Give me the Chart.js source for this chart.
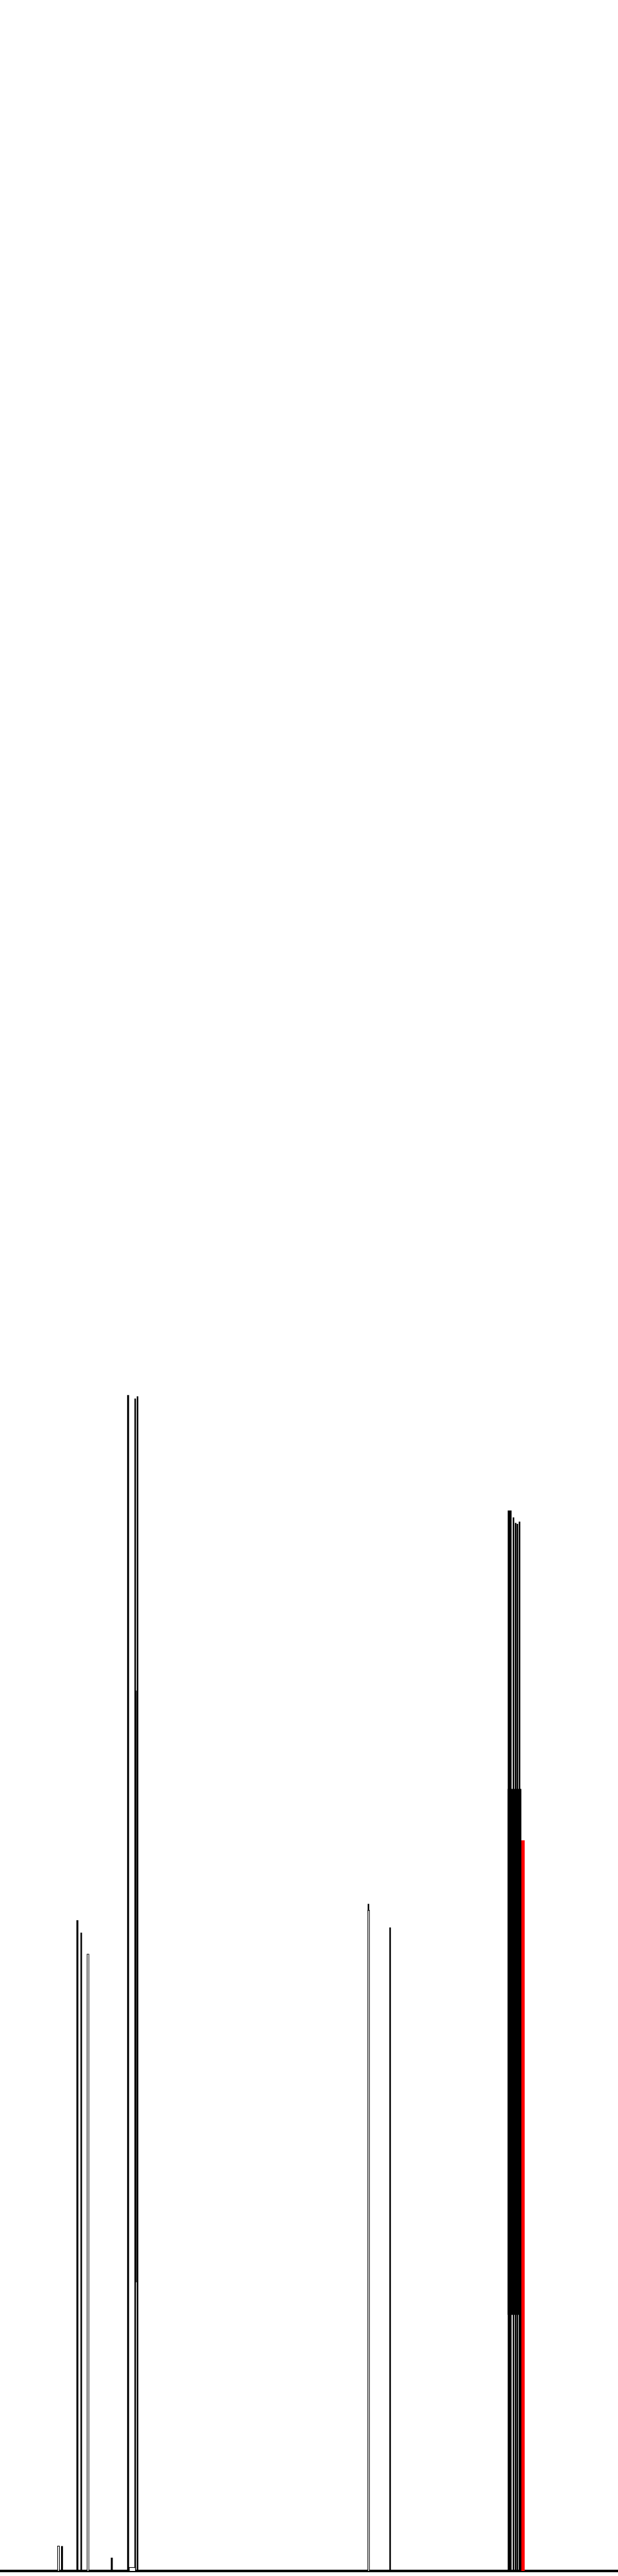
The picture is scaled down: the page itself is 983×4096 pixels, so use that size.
<!DOCTYPE html>
<html>
<head>
<meta charset="utf-8">
<title>Spikes</title>
<script src="https://cdn.jsdelivr.net/npm/chart.js@4.4.1/dist/chart.umd.min.js"></script>
<style>
    html, body { margin: 0; padding: 0; background: #ffffff; }
    #chart { display: block; }
</style>
</head>
<body>
<canvas id="chart" width="983" height="4096"></canvas>
<script>
// Positions along the axis and spike heights
const thinPos = [189.3, 315, 320.5, 858.5, 909, 1196.5, 1201.5, 1205.5, 1210.5, 1213];
const thinVal = [1488, 2733, 2738, 1555, 1500, 2456, 2443, 2441, 2446, 1823];

const mediumPos = [144.5, 180.3, 260.5, 298.5];
const mediumVal = [58, 1517, 31, 2741];

const widePos = [1187.5];
const wideVal = [2472];

const hollowPos = [136.3, 205, 859];
const hollowVal = [59, 1439, 1541];

const footPos = [308.5];
const footVal = [9];

// filled stretches where neighbouring spikes run together (from, to)
const clusterPos = [1198];
const clusterRange = [[597, 1823]];
const seamPos = [317.7];
const seamRange = [[673, 2052]];

const redPos = [1218.5];
const redVal = [1703];

const X_MAX = 1440;
const Y_MAX = 5993;

function points(xs, ys) {
    return xs.map(function(x, i) {
        return { x: x, y: ys[i] };
    });
}

document.addEventListener('DOMContentLoaded', function() {
    const ctx = document.getElementById('chart');

    const common = {
        grouped: false,
        borderSkipped: 'start',
        inflateAmount: 0
    };

    new Chart(ctx, {
        type: 'bar',
        data: {
            datasets: [
                Object.assign({ label: 'cluster', data: points(clusterPos, clusterRange), backgroundColor: '#000000', barThickness: 20.5 }, common),
                Object.assign({ label: 'seam', data: points(seamPos, seamRange), backgroundColor: '#000000', barThickness: 1.4 }, common),
                Object.assign({ label: 'foot', data: points(footPos, footVal), backgroundColor: '#ffffff', borderColor: '#000000', borderWidth: 1.5, barThickness: 11.6 }, common),
                Object.assign({ label: 'hollow', data: points(hollowPos, hollowVal), backgroundColor: '#ffffff', borderColor: '#000000', borderWidth: 1.3, barThickness: 4 }, common),
                Object.assign({ label: 'thin', data: points(thinPos, thinVal), backgroundColor: '#000000', barThickness: 2.5 }, common),
                Object.assign({ label: 'medium', data: points(mediumPos, mediumVal), backgroundColor: '#000000', barThickness: 3.1 }, common),
                Object.assign({ label: 'wide', data: points(widePos, wideVal), backgroundColor: '#000000', barThickness: 6.1 }, common),
                Object.assign({ label: 'red', data: points(redPos, redVal), backgroundColor: '#ff0000', barThickness: 5.6 }, common)
            ]
        },
        options: {
            responsive: false,
            animation: false,
            layout: {
                padding: { top: 0, right: 0, bottom: 8, left: 0 }
            },
            plugins: {
                legend: { display: false },
                tooltip: { enabled: false }
            },
            scales: {
                x: {
                    type: 'linear',
                    min: 0,
                    max: X_MAX,
                    offset: false,
                    grid: { display: false, drawTicks: false },
                    ticks: { display: false },
                    border: { display: true, color: '#000000', width: 4 }
                },
                y: {
                    display: false,
                    min: 0,
                    max: Y_MAX
                }
            }
        }
    });
});
</script>
</body>
</html>
